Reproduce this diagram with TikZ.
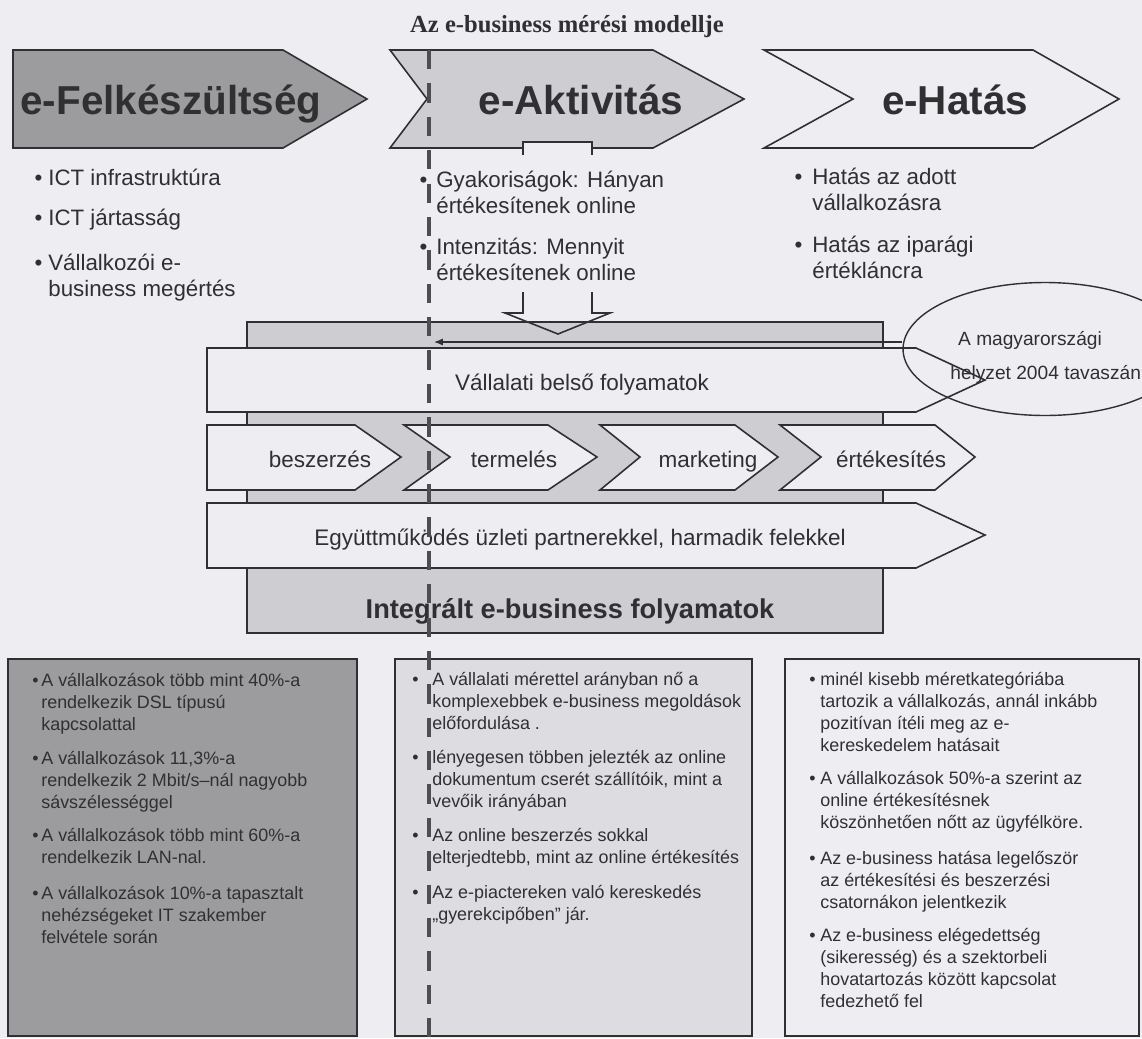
\documentclass[tikz,border=0pt]{standalone}
\usepackage{fontspec}
\setmainfont{Liberation Sans}
\newfontfamily\titlefont{Liberation Serif}
\usetikzlibrary{arrows.meta, positioning, calc, shapes.geometric}
\definecolor{paper}{RGB}{238,238,242}
\definecolor{darkfill}{RGB}{156,156,159}
\definecolor{midfill}{RGB}{206,206,210}
\definecolor{lightfill}{RGB}{220,220,225}
\definecolor{inkgray}{RGB}{48,48,50}
\definecolor{dashgray}{RGB}{78,78,80}
\newcommand{\itembul}[1]{\llap{\textbullet\hspace{#1}}}

\begin{document}
\begin{tikzpicture}[x=0.02cm, y=-0.02cm,
  outl/.style={draw=inkgray, line width=0.9pt, line join=miter},
  head/.style={anchor=base, font=\fontsize{23}{26}\selectfont\bfseries, text=inkgray, inner sep=0pt},
  lbl/.style={anchor=base, font=\fontsize{12.8}{15}\selectfont, text=inkgray, inner sep=0pt},
  topitem/.style={anchor=base west, align=left, inner sep=0pt, text=inkgray, font=\fontsize{12.7}{14.5}\selectfont},
  boxitem/.style={anchor=base west, align=left, inner sep=0pt, text=inkgray, font=\fontsize{10.2}{12.5}\selectfont},
  dashline/.style={draw=dashgray, line width=2.8pt, dash pattern=on 11pt off 8pt},
  ptr/.style={draw=inkgray, line width=0.7pt, -{Latex[length=5pt,width=4pt]}}]
  \useasboundingbox (0,0) rectangle (1142,1038);
  \fill[paper] (0,0) rectangle (1142,1038);

  % title
  \node[anchor=base, font={\titlefont\fontsize{14}{16}\selectfont\bfseries}, text=inkgray, inner sep=0pt] (title) at (567,32) {Az e-business mérési modellje};

  % the three stages
  \draw[outl, fill=darkfill] (13,50) -- (283,50) -- (367,99) -- (283,148) -- (13,148) -- cycle;
  \draw[outl, fill=midfill] (390,50) -- (653,50) -- (744,99) -- (653,148) -- (390,148) -- (427,99) -- cycle;
  \draw[outl, fill=paper] (764,50) -- (1033,50) -- (1119,99) -- (1033,148) -- (764,148) -- (853,99) -- cycle;
  \node[head] (fel) at (171,114) {e-Felkészültség};
  \node[head] (akt) at (581,114) {e-Aktivitás};
  \node[head] (hat) at (955,114) {e-Hatás};

  % top bullets (anchored on the last line)
  \node[topitem] (fel1) at (48,185) {\itembul{3.4pt}ICT infrastruktúra};
  \node[topitem] (fel2) at (48,225) {\itembul{3.4pt}ICT jártasság};
  \node[topitem] (fel3) at (48,296) {\itembul{3.4pt}Vállalkozói e-\\business megértés};
  \node[topitem] (akt1) at (436,213) {\itembul{5.1pt}Gyakoriságok: Hányan\\értékesítenek online};
  \node[topitem] (akt2) at (436,280) {\itembul{5.1pt}Intenzitás: Mennyit\\értékesítenek online};
  \node[topitem] (hat1) at (812,210) {\itembul{5.7pt}Hatás az adott\\vállalkozásra};
  \node[topitem] (hat2) at (812,278) {\itembul{5.7pt}Hatás az iparági\\értékláncra};

  % integrated processes
  \draw[outl, fill=midfill] (247,322) rectangle (883,633);
  \draw[outl, fill=paper] (523,155) -- (523,142) -- (592,142) -- (592,155);
  \draw[outl] (523,292) -- (523,313) -- (505,313) -- (558,334) -- (610,313) -- (592,313) -- (592,292);
  \draw[outl, fill=paper] (207,348) -- (916,348) -- (985,380) -- (916,412) -- (207,412) -- cycle;
  \draw[outl, fill=paper] (207,425) -- (355,425) -- (401,457) -- (355,490) -- (207,490) -- cycle;
  \draw[outl, fill=paper] (404,425) -- (548,425) -- (597,457) -- (548,490) -- (404,490) -- (450,457) -- cycle;
  \draw[outl, fill=paper] (600,425) -- (735,425) -- (778,457) -- (735,490) -- (600,490) -- (640,457) -- cycle;
  \draw[outl, fill=paper] (780,425) -- (935,425) -- (975,457) -- (935,490) -- (780,490) -- (821,457) -- cycle;
  \draw[outl, fill=paper] (207,503) -- (916,503) -- (985,535) -- (916,568) -- (207,568) -- cycle;
  \node[lbl] (vbf) at (582,390) {Vállalati belső folyamatok};
  \node[lbl] (bsz) at (320,467) {beszerzés};
  \node[lbl] (trm) at (514,467) {termelés};
  \node[lbl] (mkt) at (708,467) {marketing};
  \node[lbl] (ert) at (891,467) {értékesítés};
  \node[lbl] (egy) at (580,545) {Együttműködés üzleti partnerekkel, harmadik felekkel};
  \node[anchor=base, font=\fontsize{15.5}{18}\selectfont\bfseries, text=inkgray, inner sep=0pt] (int) at (570,618) {Integrált e-business folyamatok};

  % Hungarian situation
  \node[draw=inkgray, line width=0.8pt, ellipse, minimum width=5.68cm, minimum height=2.66cm, inner sep=0pt] (ell) at (1045,349) {};
  \node[anchor=base, font=\fontsize{10.9}{13}\selectfont, text=inkgray, inner sep=0pt] (hun1) at (1030,345) {A magyarországi};
  \node[anchor=base west, font=\fontsize{10.9}{13}\selectfont, text=inkgray, inner sep=0pt] (hun2) at (950,379) {helyzet 2004 tavaszán};
  \coordinate (hit) at (434,342);
  \draw[ptr] (ell.west |- hit) -- (hit);

  % findings
  \draw[outl, fill=darkfill] (8,659) rectangle (357,1036);
  \draw[outl, fill=lightfill] (395,659) rectangle (752,1036);
  \draw[outl, fill=paper] (785,659) rectangle (1139,1036);

  \node[boxitem] (fnd1) at (41,730) {\itembul{1.6pt}A vállalkozások több mint 40\%-a\\rendelkezik DSL típusú\\kapcsolattal};
  \node[boxitem] (fnd2) at (41,808) {\itembul{1.6pt}A vállalkozások 11,3\%-a\\rendelkezik 2 Mbit/s–nál nagyobb\\sávszélességgel};
  \node[boxitem] (fnd3) at (41,863) {\itembul{1.6pt}A vállalkozások több mint 60\%-a\\rendelkezik LAN-nal.};
  \node[boxitem] (fnd4) at (41,943) {\itembul{1.6pt}A vállalkozások 10\%-a tapasztalt\\nehézségeket IT szakember\\felvétele során};

  \node[boxitem] (act1) at (432,729) {\itembul{7.8pt}A vállalati mérettel arányban nő a\\komplexebbek e-business megoldások\\előfordulása .};
  \node[boxitem] (act2) at (432,807) {\itembul{7.8pt}lényegesen többen jelezték az online\\dokumentum cserét szállítóik, mint a\\vevőik irányában};
  \node[boxitem] (act3) at (432,863) {\itembul{7.8pt}Az online beszerzés sokkal\\elterjedtebb, mint az online értékesítés};
  \node[boxitem] (act4) at (432,920) {\itembul{7.8pt}Az e-piactereken való kereskedés\\„gyerekcipőben” jár.};

  \node[boxitem] (imp1) at (820,751) {\itembul{2.7pt}minél kisebb méretkategóriába\\tartozik a vállalkozás, annál inkább\\pozitívan ítéli meg az e-\\kereskedelem hatásait};
  \node[boxitem] (imp2) at (820,828) {\itembul{2.7pt}A vállalkozások 50\%-a szerint az\\online értékesítésnek\\köszönhetően nőtt az ügyfélköre.};
  \node[boxitem] (imp3) at (820,908) {\itembul{2.7pt}Az e-business hatása legelőször\\az értékesítési és beszerzési\\csatornákon jelentkezik};
  \node[boxitem] (imp4) at (820,1007) {\itembul{2.7pt}Az e-business elégedettség\\(sikeresség) és a szektorbeli\\hovatartozás között kapcsolat\\fedezhető fel};

  % measuring line
  \coordinate (dtop) at (429,50);
  \coordinate (dbot) at (429,1038);
  \draw[dashline] (dtop) -- (dbot);
\end{tikzpicture}
\end{document}
